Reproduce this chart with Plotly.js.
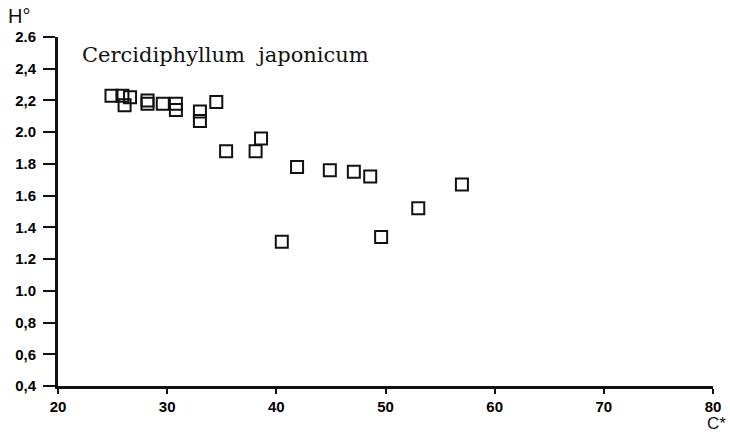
<!DOCTYPE html>
<html>
<head>
<meta charset="utf-8">
<script src="https://cdn.plot.ly/plotly-3.0.1.min.js"></script>
<style>html,body{margin:0;padding:0;background:#fff;}#chart{width:730px;height:435px;}</style>
</head>
<body>
<div id="chart"></div>
<script>
const cValues = [24.9, 25.9, 26.6, 26.1, 28.2, 28.2, 29.6, 30.8, 30.8, 33.0, 33.0, 34.5, 35.4, 38.6, 38.1, 41.9, 44.9, 47.1, 48.6, 57.0, 53.0, 49.6, 40.5];
const hValues = [2.23, 2.23, 2.22, 2.17, 2.20, 2.18, 2.18, 2.18, 2.14, 2.13, 2.07, 2.19, 1.88, 1.96, 1.88, 1.78, 1.76, 1.75, 1.72, 1.67, 1.52, 1.34, 1.31];
const xTickVals = [20, 30, 40, 50, 60, 70, 80];
const xTickText = ["20", "30", "40", "50", "60", "70", "80"];
const yTickVals = [0.4, 0.6, 0.8, 1.0, 1.2, 1.4, 1.6, 1.8, 2.0, 2.2, 2.4, 2.6];
const yTickText = ["0,4", "0,6", "0,8", "1.0", "1.2", "1.4", "1.6", "1.8", "2.0", "2,2", "2,4", "2.6"];
const speciesLabel = "Cercidiphyllum  japonicum";

const tickFont = {family: "Liberation Sans, Arial, sans-serif", size: 15, color: "#000", weight: 600};

const trace = {
  x: cValues, y: hValues, type: "scatter", mode: "markers",
  marker: {symbol: "square-open", size: 12, color: "#111", line: {width: 2, color: "#111"}},
  hoverinfo: "skip", showlegend: false
};

const layout = {
  width: 730, height: 435,
  margin: {l: 58, r: 17, t: 37, b: 49},
  paper_bgcolor: "#fff", plot_bgcolor: "#fff",
  xaxis: {
    range: [20, 80], tickvals: xTickVals, ticktext: xTickText,
    showgrid: false, zeroline: false, showline: true, linecolor: "#111", linewidth: 3,
    ticks: "outside", ticklen: 5, tickwidth: 2, tickcolor: "#111", tickfont: tickFont
  },
  yaxis: {
    range: [0.4, 2.6], tickvals: yTickVals, ticktext: yTickText,
    showgrid: false, zeroline: false, showline: true, linecolor: "#111", linewidth: 3,
    ticks: "outside", ticklen: 12, tickwidth: 2, tickcolor: "#111", tickfont: tickFont,
    ticklabelstandoff: 4
  },
  annotations: [
    {text: "H°", xref: "paper", yref: "paper", x: -0.078, y: 1.026, xanchor: "left", yanchor: "bottom",
     showarrow: false, borderpad: 0, font: {family: "Liberation Sans, Arial, sans-serif", size: 20, color: "#111"}},
    {text: "C*", xref: "paper", yref: "paper", x: 1.022, y: -0.1375, xanchor: "right", yanchor: "bottom",
     showarrow: false, borderpad: 0, font: {family: "Liberation Sans, Arial, sans-serif", size: 17, color: "#111"}},
    {text: speciesLabel, xref: "paper", yref: "paper", x: 0.033, y: 0.948, xanchor: "left", yanchor: "middle",
     showarrow: false, font: {family: "DejaVu Serif, Liberation Serif, serif", size: 21, color: "#111"}}
  ]
};

Plotly.newPlot("chart", [trace], layout, {displayModeBar: false, staticPlot: true});
</script>
</body>
</html>
